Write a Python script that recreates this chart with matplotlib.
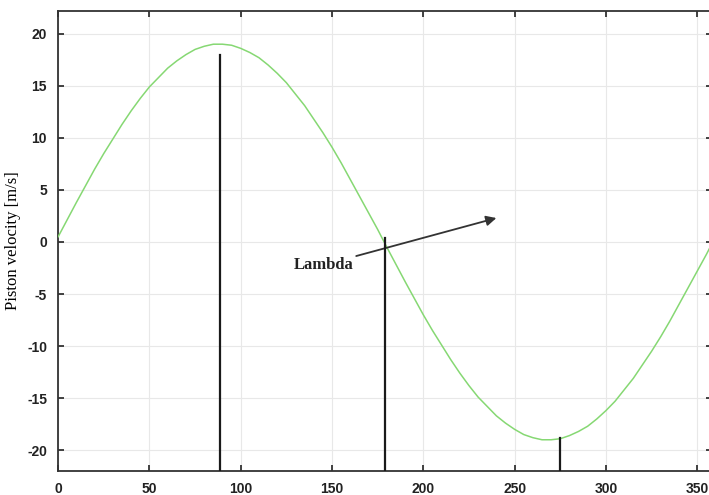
import matplotlib
matplotlib.use("Agg")
import matplotlib.pyplot as plt

plt.rcParams["axes.unicode_minus"] = False

# Crank angle [deg] and piston velocity [m/s]
angle = [0, 5, 10, 15, 20, 25, 30, 35, 40, 45, 50, 55, 60, 65, 70, 75, 80, 85,
         90, 95, 100, 105, 110, 115, 120, 125, 130, 135, 140, 145, 150, 155,
         160, 165, 170, 175, 180, 185, 190, 195, 200, 205, 210, 215, 220, 225,
         230, 235, 240, 245, 250, 255, 260, 265, 270, 275, 280, 285, 290, 295,
         300, 305, 310, 315, 320, 325, 330, 335, 340, 345, 350, 355, 360]
velocity = [0.5, 2.15, 3.8, 5.4, 7.0, 8.5, 9.9, 11.3, 12.6, 13.8, 14.9, 15.8,
            16.7, 17.4, 18.0, 18.5, 18.8, 19.0, 19.0, 18.9, 18.6, 18.2, 17.7,
            17.0, 16.2, 15.3, 14.2, 13.1, 11.8, 10.5, 9.1, 7.6, 6.0, 4.4, 2.8,
            1.2, -0.5, -2.15, -3.8, -5.4, -7.0, -8.5, -9.9, -11.3, -12.6,
            -13.8, -14.9, -15.8, -16.7, -17.4, -18.0, -18.5, -18.8, -19.0,
            -19.0, -18.9, -18.6, -18.2, -17.7, -17.0, -16.2, -15.3, -14.2,
            -13.1, -11.8, -10.5, -9.1, -7.6, -6.0, -4.4, -2.8, -1.2, 0.5]

# Vertical marker lines: x position, top value
marker_x = [88.5, 179, 275]
marker_top = [18.0, 0.4, -18.8]

xticks = [0, 50, 100, 150, 200, 250, 300, 350]
yticks = [-20, -15, -10, -5, 0, 5, 10, 15, 20]
ylabel = "Piston velocity [m/s]"
annot_text = "Lambda"

fig = plt.figure(figsize=(7.09, 4.95), dpi=100)
ax = fig.add_axes([0.082, 0.0485, 0.922, 0.9295])

ax.plot(angle, velocity, color="#86d873", lw=1.1, zorder=3)

ymin = -22.0
for x, top in zip(marker_x, marker_top):
    ax.plot([x, x], [ymin, top], color="#1a1a1a", lw=1.6, zorder=4)

ax.set_xlim(0, 358)
ax.set_ylim(ymin, 22.2)
ax.set_xticks(xticks)
ax.set_yticks(yticks)
ax.grid(True, color="#e8e8e8", lw=0.8)
ax.tick_params(direction="in", length=4, width=1.2, top=True, right=True,
               labelsize=10, pad=8, colors="#222222")
for lbl in ax.get_xticklabels() + ax.get_yticklabels():
    lbl.set_fontfamily("Liberation Sans")
    lbl.set_fontweight("bold")
for s in ax.spines.values():
    s.set_color("#333333")
    s.set_linewidth(1.3)

ax.set_ylabel(ylabel, family="Liberation Serif", fontsize=12, labelpad=4)

ax.annotate(annot_text, xy=(240, 2.3), xytext=(129, -2.2),
            family="Liberation Serif", fontsize=12, fontweight="bold",
            color="#222222", va="center", ha="left",
            arrowprops=dict(arrowstyle="-|>", color="#333333", lw=1.3,
                            mutation_scale=15, shrinkA=0, shrinkB=0))

fig.savefig("out.png", dpi=100)
